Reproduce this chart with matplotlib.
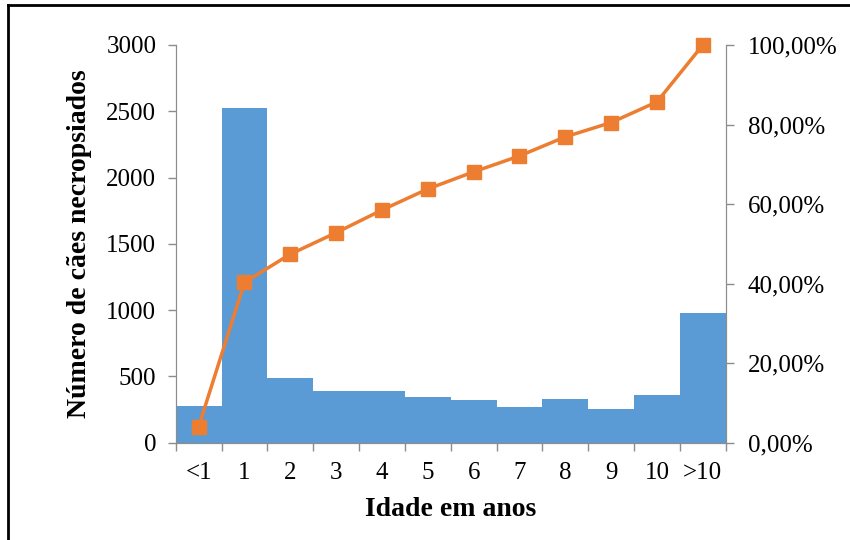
import numpy as np
import matplotlib
matplotlib.use('Agg')
import matplotlib.pyplot as plt
from matplotlib.ticker import FuncFormatter, FixedLocator
from matplotlib.lines import Line2D

# data
idades = ['<1', '1', '2', '3', '4', '5', '6', '7', '8', '9', '10', '>10']
caes = [279, 2522, 486, 390, 392, 345, 320, 267, 332, 254, 360, 978]
acumulado = [4.0, 40.3, 47.4, 52.8, 58.5, 63.8, 68.1, 72.1, 76.9, 80.5, 85.7, 100.0]

plt.rcParams['font.family'] = ['Liberation Serif', 'DejaVu Serif']
grey = '#8c8c8c'

fig = plt.figure(figsize=(8.5, 5.4), dpi=100)
ax = fig.add_axes([0.2067, 0.1802, 0.6471, 0.7365])
x = np.arange(len(idades))

ax.bar(x, caes, width=1.0, color='#5b9bd5', linewidth=0)
ax.set_xlim(-0.5, len(idades) - 0.5)
ax.set_ylim(0, 3000)
ax.set_yticks(np.arange(0, 3001, 500))
ax.set_xticks(x)
ax.set_xticklabels(idades)
ax.xaxis.set_minor_locator(FixedLocator(np.arange(-0.5, len(idades), 1.0)))
ax.tick_params(axis='x', which='major', length=0, pad=14, labelsize=18)
ax.tick_params(axis='x', which='minor', length=6, color=grey, width=1)
ax.tick_params(axis='y', length=6, color=grey, width=1, pad=8, labelsize=18)
ax.set_ylabel('Número de cães necropsiados', fontsize=20, fontweight='bold', labelpad=10)
ax.set_xlabel('Idade em anos', fontsize=20, fontweight='bold', labelpad=9)
ax.spines['top'].set_visible(False)
for s in ['left', 'right', 'bottom']:
    ax.spines[s].set_color(grey)

ax2 = ax.twinx()
ax2.plot(x, acumulado, color='#ed7d31', linewidth=2.5, marker='s', markersize=10,
         clip_on=False)
ax2.set_ylim(0, 100)
ax2.set_yticks(np.arange(0, 101, 20))
ax2.yaxis.set_major_formatter(FuncFormatter(lambda v, p: ('%.2f%%' % v).replace('.', ',')))
ax2.tick_params(axis='y', length=6, color=grey, width=1, pad=10, labelsize=18)
ax2.spines['top'].set_visible(False)
for s in ['left', 'right', 'bottom']:
    ax2.spines[s].set_color(grey)

# frame around the chart
fig.add_artist(Line2D([8/850, 1.0], [1 - 5/540, 1 - 5/540], color='black', linewidth=2))
fig.add_artist(Line2D([8/850, 8/850], [0.0, 1 - 5/540], color='black', linewidth=2))

fig.savefig('out.png', dpi=100)
